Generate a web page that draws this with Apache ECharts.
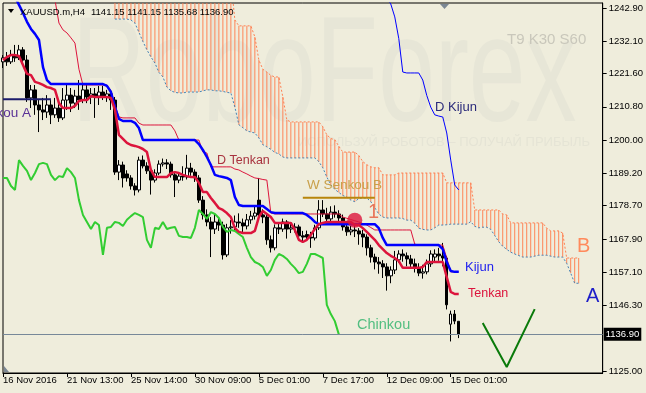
<!DOCTYPE html>
<html>
<head>
<meta charset="utf-8">
<script src="https://cdn.jsdelivr.net/npm/echarts@6/dist/echarts.min.js"></script>
<style>
html,body{margin:0;padding:0;background:#EFEDDC;}
#c{width:646px;height:393px;}
</style>
</head>
<body>
<div id="c"></div>
<script>
// ---------- DATA ----------
const N = 151; // bar slots (history + 30 bars of future for the cloud)
const xLabelIndex = [0, 16, 32, 48, 64, 80, 96, 112];
const xLabelText = ['16 Nov 2016', '21 Nov 13:00', '25 Nov 14:00', '30 Nov 09:00', '5 Dec 01:00', '7 Dec 17:00', '12 Dec 09:00', '15 Dec 01:00'];
const yTickValues = [1125.00, 1146.30, 1157.10, 1167.90, 1178.70, 1189.20, 1200.00, 1210.80, 1221.60, 1232.10, 1242.90];

const candleOpen = [
1225.4,1226.7,1225.4,1227.6,1226.7,1229.3,1226.0,1213.7,1216.3,1211.4,
1209.8,1209.1,1211.4,1208.2,1210.4,1207.2,1213.0,1214.6,1212.0,1214.3,
1213.0,1216.3,1214.0,1215.0,1214.3,1215.6,1214.0,1215.0,1213.0,1189.6,
1191.9,1189.0,1187.7,1185.1,1183.8,1193.5,1191.6,1190.0,1187.0,1189.3,
1192.2,1192.6,1192.2,1188.7,1187.0,1188.3,1188.0,1190.9,1189.6,1187.7,
1180.5,1175.7,1173.4,1171.1,1173.4,1172.4,1162.7,1171.5,1171.8,1173.4,
1173.1,1172.1,1174.1,1175.3,1180.5,1175.7,1175.0,1167.6,1165.0,1171.5,
1171.1,1173.4,1171.1,1171.5,1171.8,1168.9,1169.3,1168.5,1168.2,1171.5,
1177.3,1176.0,1174.4,1176.6,1176.0,1174.7,1171.8,1170.2,1170.8,1170.5,
1169.5,1168.5,1165.0,1162.0,1160.4,1159.8,1158.8,1155.9,1157.8,1161.1,
1163.0,1162.4,1161.4,1159.8,1158.5,1156.8,1157.2,1159.8,1162.0,1163.0,
1162.4,1161.7,1140.2,1143.5,1141.15];
const candleClose = [
1226.7,1225.4,1227.6,1226.7,1229.3,1226.0,1213.7,1216.3,1211.4,1209.8,
1209.1,1211.4,1208.2,1210.4,1207.2,1213.0,1214.6,1212.0,1214.3,1213.0,
1216.3,1214.0,1215.0,1214.3,1215.6,1214.0,1215.0,1213.0,1189.6,1191.9,
1187.7,1187.7,1185.1,1183.8,1193.5,1191.6,1190.0,1187.0,1189.3,1192.2,
1192.6,1192.2,1188.7,1187.0,1188.3,1188.0,1190.9,1189.6,1187.7,1180.5,
1175.7,1173.4,1171.1,1173.4,1172.4,1162.7,1171.5,1171.8,1173.4,1173.1,
1172.1,1174.1,1175.3,1176.3,1175.7,1175.0,1167.6,1165.0,1171.5,1171.1,
1173.4,1171.1,1171.5,1171.8,1168.9,1168.5,1168.5,1168.2,1171.5,1177.3,
1176.0,1174.4,1176.6,1176.0,1174.7,1171.8,1170.2,1170.8,1170.5,1169.5,
1168.5,1165.0,1162.0,1160.4,1159.8,1158.8,1155.9,1157.8,1161.1,1163.0,
1162.4,1161.4,1159.8,1158.5,1156.8,1157.2,1159.8,1163.0,1163.0,1162.4,
1161.7,1146.5,1143.5,1141.2,1136.9];
const candleLow = [
1223.4,1224.1,1224.7,1225.4,1226.0,1224.7,1212.4,1210.4,1208.2,1202.6,
1206.5,1207.2,1205.2,1207.2,1205.9,1206.5,1209.8,1209.1,1210.4,1209.8,
1212.0,1212.0,1211.7,1207.2,1211.4,1213.0,1212.4,1209.8,1188.7,1187.0,
1184.6,1186.5,1183.9,1182.0,1183.0,1190.8,1189.0,1182.3,1186.2,1188.6,
1191.4,1190.6,1187.8,1181.5,1186.0,1186.8,1187.2,1188.4,1186.4,1179.6,
1174.2,1172.0,1162.0,1169.5,1170.5,1161.2,1162.0,1169.6,1170.5,1171.5,
1170.0,1171.0,1172.8,1174.2,1174.5,1173.0,1166.0,1163.5,1164.2,1169.5,
1170.2,1168.0,1169.8,1170.0,1167.5,1167.2,1167.5,1165.0,1167.4,1170.8,
1175.0,1173.3,1173.6,1174.8,1173.5,1170.6,1168.9,1169.1,1168.5,1166.0,
1165.2,1162.5,1160.2,1158.0,1156.6,1155.2,1151.1,1153.5,1156.5,1160.2,
1160.5,1159.0,1158.4,1157.0,1155.8,1155.0,1156.4,1158.8,1160.6,1160.8,
1159.0,1145.0,1134.6,1140.2,1135.68];
const candleHigh = [
1227.6,1228.6,1229.3,1230.9,1230.9,1230.2,1227.6,1217.9,1217.9,1213.0,
1213.7,1214.6,1213.0,1213.7,1211.7,1216.9,1217.9,1216.9,1216.3,1219.5,
1218.2,1217.9,1216.9,1216.9,1217.6,1217.6,1216.3,1216.3,1214.0,1193.5,
1193.0,1190.2,1188.6,1186.0,1194.6,1195.0,1192.8,1190.8,1190.5,1193.4,
1194.0,1193.8,1193.0,1189.8,1189.5,1191.5,1195.2,1192.6,1190.5,1188.6,
1181.8,1177.5,1175.0,1176.0,1174.8,1173.5,1172.8,1174.0,1175.5,1176.2,
1174.5,1176.0,1177.0,1178.5,1187.7,1177.5,1176.2,1169.0,1172.6,1173.2,
1174.5,1174.0,1173.0,1173.0,1172.5,1170.5,1170.6,1170.2,1172.5,1180.5,
1180.5,1178.0,1178.5,1178.8,1177.2,1175.8,1173.5,1172.2,1172.5,1171.4,
1170.8,1169.4,1166.0,1163.1,1162.0,1161.0,1160.0,1159.0,1164.0,1164.2,
1164.5,1163.5,1162.7,1161.5,1160.0,1159.5,1161.2,1164.2,1164.5,1165.0,
1166.6,1162.4,1144.6,1144.8,1141.15];

const tenkan = [
1226.0,1227.0,1227.6,1227.6,1227.3,1224.4,1221.5,1221.1,1218.9,1218.5,
1217.9,1217.2,1216.9,1216.3,1212.0,1210.4,1210.4,1210.4,1211.1,1212.7,
1213.0,1213.0,1214.3,1214.0,1214.0,1214.0,1214.0,1213.7,1209.8,1201.7,
1200.4,1199.1,1198.4,1198.1,1197.7,1197.1,1196.1,1190.3,1188.0,1188.0,
1188.0,1188.0,1189.3,1189.6,1189.3,1188.7,1188.3,1188.0,1188.0,1186.1,
1183.1,1183.1,1181.2,1179.6,1177.9,1177.3,1176.3,1175.0,1171.4,1170.2,
1169.8,1169.8,1169.8,1170.5,1175.0,1177.0,1176.0,1175.0,1173.1,1173.1,
1173.1,1173.1,1173.1,1170.8,1167.6,1166.9,1167.6,1169.2,1171.1,1172.7,
1173.1,1173.4,1173.4,1173.4,1173.4,1173.4,1173.4,1173.4,1172.4,1172.4,
1171.4,1170.2,1168.9,1167.6,1165.9,1164.6,1163.3,1162.4,1161.7,1160.7,
1158.5,1158.5,1158.5,1158.5,1158.5,1158.8,1160.4,1160.4,1160.4,1160.4,
1160.4,1155.5,1150.7,1150.0,1150.0];
const kijun = [
1254.3,1251.7,1249.1,1246.5,1243.9,1241.3,1238.4,1236.1,1234.5,1232.5,
1223.7,1219.5,1218.2,1218.2,1218.2,1218.2,1218.2,1218.2,1218.2,1218.2,
1218.2,1218.2,1218.2,1218.2,1218.2,1218.2,1217.6,1215.6,1210.7,1206.9,
1206.2,1206.2,1206.2,1205.6,1203.9,1200.0,1200.0,1200.0,1200.0,1200.0,
1200.0,1200.0,1200.0,1200.0,1200.0,1200.0,1200.0,1200.0,1200.0,1198.7,
1196.8,1194.5,1191.9,1188.7,1188.3,1188.0,1187.7,1187.0,1181.5,1178.9,
1178.6,1178.6,1178.6,1178.6,1178.6,1178.6,1177.6,1176.6,1176.3,1176.3,
1176.3,1176.3,1176.3,1176.3,1176.3,1176.3,1175.7,1174.7,1173.4,1172.7,
1172.7,1172.7,1172.7,1172.7,1172.7,1172.7,1172.7,1172.7,1172.7,1172.7,
1172.7,1172.7,1172.7,1172.7,1171.4,1168.2,1165.9,1165.9,1165.9,1165.9,
1165.9,1165.9,1165.9,1165.9,1165.9,1165.9,1165.9,1165.9,1165.9,1165.9,
1164.6,1160.4,1157.5,1157.2,1157.2];

const dTenkanStart = 12;
const dTenkan = [
1250.0,1245.5,1238.0,1235.8,1234.8,1233.2,1231.5,1223.0,
1217.9,1217.9,1217.9,1217.9,1217.9,1217.9,1217.9,1216.0,1211.4,1207.5,
1207.2,1207.2,1207.2,1207.2,1205.5,1204.9,1204.9,1204.9,1204.9,1204.9,
1204.9,1204.9,1204.9,1203.0,1200.0,1200.0,1200.0,1200.0,1200.0,1200.0,
1196.1,1195.8,1191.3,1191.3,1191.3,1191.3,1191.3,1191.3,1190.6,1190.3,
1189.6,1189.0,1188.3,1187.7,1187.5,1187.2,1187.0,1176.3,1176.0,1176.0,
1176.0,1176.0,1176.0,1176.0,1176.0,1176.0,1176.0,1176.0,1176.0,1176.0,
1176.0,1176.0,1176.0,1176.0,1176.0,1175.0,1174.6,1174.2,1173.8,1173.4,
1172.9,1172.4,1171.6,1170.8,1170.8,1170.8,1170.8,1170.8,1170.8,1170.8,
1170.8,1170.8,1170.8,1166.2,1165.9,1165.9,1165.9,1165.9,1165.9,1165.9,
1165.9,1161.7,1157.2,1157.2,1157.2];

const dKijunStart = 96;
const dKijun = [1246.0,1244.2,1240.0,1233.0,1222.1,1221.8,1221.8,1221.8,1221.8,1219.5,
1214.5,1210.7,1208.2,1207.8,1207.5,1202.3,1193.5,1185.4,1183.8];

const chinkou = [
1187.7,1187.7,1185.1,1183.8,1193.5,1191.6,1190.0,1187.0,1189.3,1192.2,
1192.6,1192.2,1188.7,1187.0,1188.3,1188.0,1190.9,1189.6,1187.7,1180.5,
1175.7,1173.4,1171.1,1173.4,1172.4,1162.7,1171.5,1171.8,1173.4,1173.1,
1172.1,1174.1,1175.3,1176.3,1175.7,1175.0,1167.6,1165.0,1171.5,1171.1,
1173.4,1171.1,1171.5,1171.8,1168.9,1168.5,1168.5,1168.2,1171.5,1177.3,
1176.0,1174.4,1176.6,1176.0,1174.7,1171.8,1170.2,1170.8,1170.5,1169.5,
1168.5,1165.0,1162.0,1160.4,1159.8,1158.8,1155.9,1157.8,1161.1,1163.0,
1162.4,1161.4,1159.8,1158.5,1156.8,1157.2,1159.8,1163.0,1163.0,1162.4,
1161.7,1146.5,1143.5,1141.2,1136.9];

const cloudStart = 28;
const senkouA = [
1239.3,1239.3,1239.3,1239.3,1239.0,1238.0,1235.0,1232.0,1229.3,1227.0,
1225.0,1222.0,1220.5,1217.2,1216.0,1215.5,1215.3,1215.3,1215.6,1215.6,
1215.6,1215.6,1216.0,1216.3,1216.3,1216.0,1216.0,1215.8,1215.5,1215.3,
1210.7,1205.0,1204.0,1203.0,1202.6,1202.3,1200.7,1198.5,1197.8,1197.0,
1196.0,1195.5,1194.5,1194.2,1194.2,1194.2,1194.2,1194.2,1194.2,1194.2,
1194.2,1193.0,1191.0,1188.0,1185.5,1184.0,1183.0,1182.0,1181.5,1180.5,
1180.0,1181.0,1181.2,1181.2,1180.0,1178.0,1176.0,1175.0,1174.7,1174.7,
1174.7,1174.7,1174.5,1174.0,1174.0,1173.0,1171.4,1171.0,1170.8,1170.8,
1171.5,1172.4,1172.4,1172.5,1172.7,1172.7,1172.7,1172.7,1172.7,1173.5,
1172.0,1171.5,1171.7,1171.7,1171.0,1169.0,1167.0,1165.5,1164.5,1163.6,
1163.0,1162.5,1162.0,1162.0,1162.0,1162.3,1162.6,1162.6,1162.6,1162.3,
1162.0,1162.0,1162.0,1160.0,1156.8,1153.5,1153.5];
const senkouB = [
1252,1252,1252,1252,1252,1252,1252,1252,1252,1252,
1252,1252,1252,1252,1252,1252,1252,1252,1252,1252,
1252,1252,1252,1252,1252,1252,1252,1252,1252,1252,
1239.0,1237.1,1237.1,1237.1,1237.1,1233.5,1226.0,1223.0,1222.1,1221.0,
1220.5,1220.5,1214.0,1206.5,1205.9,1205.9,1205.9,1205.9,1205.9,1205.9,
1205.9,1205.9,1204.3,1201.7,1200.5,1200.1,1198.0,1196.1,1196.1,1196.1,
1196.1,1195.0,1193.0,1192.0,1191.3,1191.0,1191.0,1188.7,1188.7,1188.7,
1188.7,1189.3,1189.3,1189.3,1189.3,1189.3,1189.3,1189.3,1189.3,1189.3,
1189.3,1189.3,1189.3,1186.1,1186.1,1186.1,1186.1,1186.1,1186.1,1186.1,
1177.3,1177.3,1177.3,1177.3,1177.3,1177.3,1177.3,1176.0,1175.7,1173.1,
1173.1,1173.1,1173.1,1173.1,1173.1,1173.1,1173.1,1173.1,1171.4,1170.5,
1170.5,1170.5,1169.8,1161.7,1161.7,1161.7,1161.7];

const wSenkouAValue = 1213.3, wSenkouARange = [0, 12];
const wSenkouBValue = 1181.3, wSenkouBRange = [75, 93];
const lastPrice = 1136.90;
const signalIdx = 88, signalValue = 1174.0;
const arrowIdx = [120, 126, 133];
const arrowVal = [1140.6, 1126.3, 1145.1];

// ---------- BUILD ----------
function place(start, arr) {
  const out = new Array(N).fill(null);
  arr.forEach((v, k) => { out[start + k] = v; });
  return out;
}
function flat(v, range) {
  const out = new Array(N).fill(null);
  for (let i = range[0]; i <= range[1]; i++) out[i] = v;
  return out;
}
const categories = Array.from({length: N}, (_, i) => {
  const k = xLabelIndex.indexOf(i);
  return k >= 0 ? xLabelText[k] : '';
});
const candleData = candleOpen.map((o, i) => [o, candleClose[i], candleLow[i], candleHigh[i]]);
const kumoBase = place(cloudStart, senkouA);
const kumoThick = place(cloudStart, senkouB.map((b, k) => +(b - senkouA[k]).toFixed(2)));

const FONT = '"Liberation Sans", Arial, sans-serif';
const KUMO = '#FF7F50';
const showLabel = (idx) => xLabelIndex.indexOf(idx) >= 0;

const chart = echarts.init(document.getElementById('c'), null, {renderer: 'canvas'});
function txt(text, x, y, size, color, align, extra) {
  return Object.assign({
    type: 'text', x: x, y: y, z: 100, silent: true,
    style: {text: text, font: size + 'px ' + FONT, fill: color, align: align || 'left', verticalAlign: 'middle'}
  }, extra || {});
}

const option = {
  backgroundColor: '#EFEDDC',
  animation: false,
  grid: {left: 3, right: 42, top: 3, bottom: 20, show: true, borderColor: '#000', borderWidth: 1, backgroundColor: 'transparent'},
  xAxis: {
    type: 'category', data: categories, boundaryGap: false,
    axisLine: {show: true, lineStyle: {color: '#000', width: 1}},
    axisTick: {show: true, length: 4, interval: (i) => showLabel(i), lineStyle: {color: '#000'}},
    axisLabel: {interval: (i) => showLabel(i), align: 'left', margin: 2, color: '#000', fontSize: 9.5, fontFamily: FONT},
    splitLine: {show: false}
  },
  yAxis: {
    type: 'value', position: 'right', min: 1124.35, max: 1244.52, scale: true,
    splitLine: {show: false},
    axisLine: {show: true, lineStyle: {color: '#000'}},
    axisTick: {show: true, length: 4, customValues: yTickValues, lineStyle: {color: '#000'}},
    axisLabel: {customValues: yTickValues, formatter: (v) => v.toFixed(2), color: '#000', fontSize: 9.5, fontFamily: FONT, margin: 6}
  },
  graphic: [
    {type: 'text', x: 72, y: 80, scaleX: 0.68, z: -1, silent: true,
     style: {text: 'RoboForex', font: '150px ' + FONT, fill: '#E7E6D7', align: 'left', verticalAlign: 'middle'}},
    {type: 'text', x: 590, y: 142, z: -1, silent: true,
     style: {text: 'ИСПОЛЬЗУЙ РОБОТОВ – ПОЛУЧАЙ ПРИБЫЛЬ', font: '13px ' + FONT, fill: '#E5E4D5', align: 'right', verticalAlign: 'middle'}},
    txt('T9 K30 S60', 507, 40, 15, '#C9C7BB'),
    {type: 'polygon', z: 100, silent: true, shape: {points: [[8, 9], [14, 9], [11, 13]]}, style: {fill: '#000'}},
    txt('XAUUSD.m,H4', 20, 12, 9.5, '#000'),
    txt('1141.15 1141.15 1135.68 1136.90', 91, 12, 9.5, '#000'),
    {type: 'polygon', z: 100, silent: true, shape: {points: [[440, 4], [449, 4], [444.5, 9]]}, style: {fill: '#7B8794'}},
    {type: 'polygon', z: 100, silent: true, shape: {points: [[4, 366], [4, 372], [9, 372]]}, style: {fill: '#7B8794'}},
    txt('W Senkou A', 31, 113, 13.5, '#5A3296', 'right'),
    txt('D Tenkan', 217, 161, 12.5, '#A8323E'),
    txt('D Kijun', 435, 107, 13, '#2A2A7A'),
    txt('W Senkou B', 307, 185, 13.5, '#C9A04A'),
    txt('1', 368, 212, 20, '#E8765A'),
    txt('B', 577, 246, 20, '#FF8A5C'),
    txt('A', 586, 296, 20, '#1E1EC8'),
    txt('Kijun', 465, 267, 13, '#2222EE'),
    txt('Tenkan', 468, 294, 12.5, '#DC143C'),
    txt('Chinkou', 357, 325, 14.5, '#52BE80')
  ],
  series: [
    {name: 'KumoBase', type: 'bar', stack: 'kumo', data: kumoBase, barWidth: 1, z: 1, silent: true,
     itemStyle: {color: 'rgba(0,0,0,0)'}},
    {name: 'Kumo', type: 'bar', stack: 'kumo', data: kumoThick, barWidth: 1, z: 1, silent: true,
     itemStyle: {color: KUMO, opacity: 0.95}},
    {name: 'SenkouA', type: 'line', data: place(cloudStart, senkouA), symbol: 'none', z: 1, silent: true,
     lineStyle: {color: '#4682B4', width: 1, type: [2, 2]}},
    {name: 'SenkouB', type: 'line', data: place(cloudStart, senkouB), symbol: 'none', z: 1, silent: true,
     lineStyle: {color: KUMO, width: 1, type: [2, 2]}},
    {name: 'Price', type: 'candlestick', data: candleData, barWidth: 3, z: 2, silent: true,
     itemStyle: {color: '#FFFFFF', color0: '#000000', borderColor: '#000000', borderColor0: '#000000', borderWidth: 1},
     markLine: {silent: true, symbol: 'none', animation: false,
       lineStyle: {color: '#778899', width: 1, type: 'solid'},
       label: {show: true, position: 'end', distance: 1, formatter: lastPrice.toFixed(2), color: '#FFFFFF',
               backgroundColor: '#000000', padding: [2, 2, 1, 2], fontSize: 9.5, fontFamily: FONT},
       data: [{yAxis: lastPrice}]}},
    {name: 'Chinkou', type: 'line', data: chinkou, symbol: 'none', z: 3, silent: true,
     lineStyle: {color: '#32CD32', width: 2}},
    {name: 'WSenkouA', type: 'line', data: flat(wSenkouAValue, wSenkouARange), symbol: 'none', z: 3, silent: true,
     lineStyle: {color: '#1C1C6B', width: 2}},
    {name: 'WSenkouB', type: 'line', data: flat(wSenkouBValue, wSenkouBRange), symbol: 'none', z: 3, silent: true,
     lineStyle: {color: '#B8860B', width: 2}},
    {name: 'DTenkan', type: 'line', data: place(dTenkanStart, dTenkan), symbol: 'none', z: 4, silent: true,
     lineStyle: {color: '#DC143C', width: 1}},
    {name: 'DKijun', type: 'line', data: place(dKijunStart, dKijun), symbol: 'none', z: 4, silent: true,
     lineStyle: {color: '#0000FF', width: 1}},
    {name: 'Kijun', type: 'line', data: kijun, symbol: 'none', z: 5, silent: true,
     lineStyle: {color: '#0000FF', width: 2.5}},
    {name: 'Tenkan', type: 'line', data: tenkan, symbol: 'none', z: 5, silent: true,
     lineStyle: {color: '#DC143C', width: 2.5}},
    {name: 'Signal', type: 'scatter', data: [[signalIdx, signalValue]], symbol: 'circle', symbolSize: 15, z: 6, silent: true,
     itemStyle: {color: '#DC143C'}},
    {name: 'Arrow', type: 'line', data: arrowIdx.map((x, k) => [x, arrowVal[k]]), symbol: 'none', z: 6, silent: true,
     lineStyle: {color: '#0A7A0A', width: 2}}
  ]
};
chart.setOption(option);
</script>
</body>
</html>
